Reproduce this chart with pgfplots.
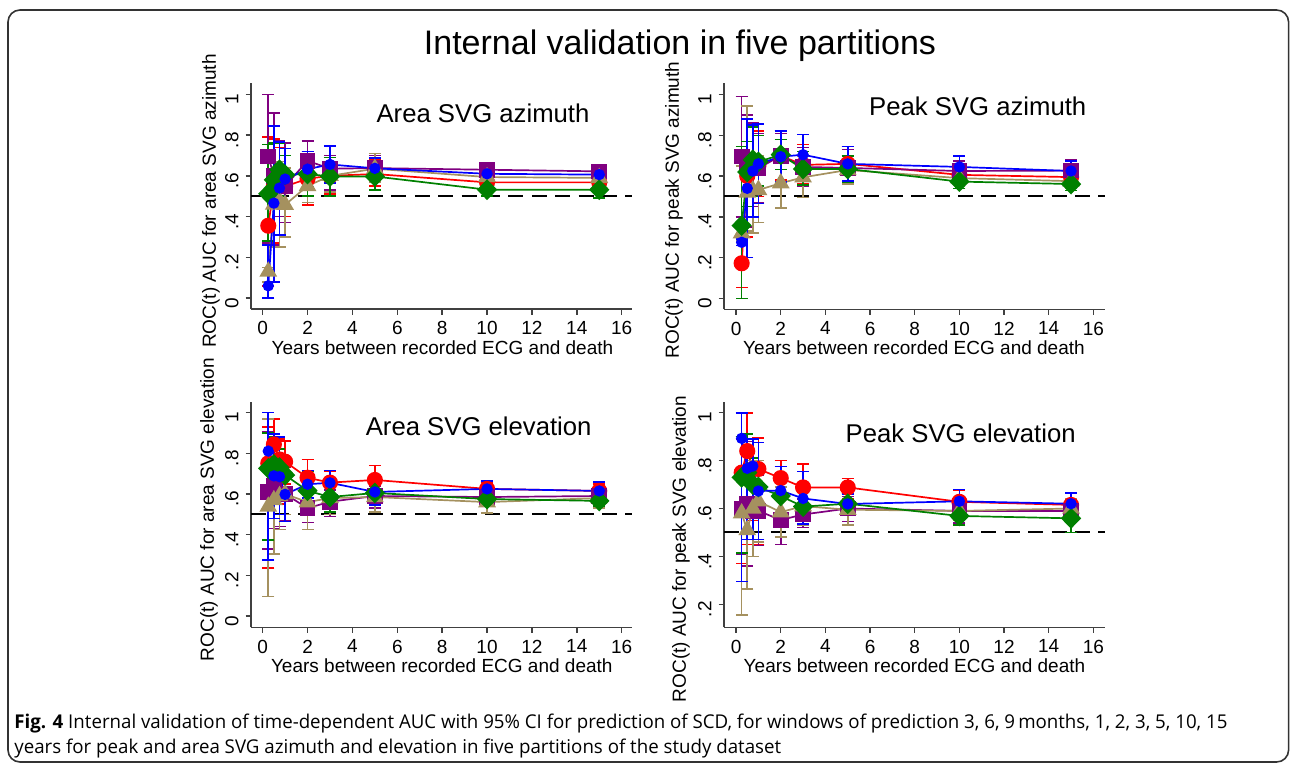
\documentclass[border=0pt]{standalone}
\usepackage{fontspec}
\setmainfont{Liberation Sans}
\newfontfamily\capfont{Open Sans}
\usepackage{graphicx}
\usepackage{pgfplots}
\usepackage{pgfplotstable}
\pgfplotsset{compat=1.18}

\definecolor{sred}{RGB}{255,0,0}
\definecolor{spurple}{RGB}{128,0,128}
\definecolor{stan}{RGB}{165,145,95}
\definecolor{sgreen}{RGB}{0,128,0}
\definecolor{sblue}{RGB}{0,0,255}

% Area SVG azimuth
\pgfplotstableread{
x r rl rh p pl ph t tl th g gl gh b bl bh
0.25 0.355 0.06 0.79 0.695 0.27 1.00 0.13 0.08 0.15 0.512 0.28 0.753 0.06 0.00 0.26
0.5 0.55 0.27 0.78 0.60 0.26 0.91 0.46 0.25 0.67 0.58 0.44 0.76 0.466 0.08 0.846
0.75 0.57 0.40 0.74 0.57 0.40 0.77 0.475 0.25 0.67 0.63 0.50 0.76 0.54 0.31 0.766
1 0.548 0.40 0.70 0.55 0.37 0.76 0.458 0.30 0.64 0.605 0.45 0.70 0.584 0.434 0.735
2 0.586 0.458 0.72 0.674 0.47 0.772 0.55 0.47 0.63 0.609 0.50 0.72 0.633 0.548 0.72
3 0.60 0.51 0.69 0.635 0.53 0.70 0.60 0.52 0.69 0.597 0.50 0.69 0.656 0.565 0.748
5 0.609 0.55 0.68 0.638 0.57 0.70 0.635 0.57 0.709 0.597 0.53 0.66 0.637 0.58 0.687
10 0.568 0.53 0.61 0.63 0.59 0.665 0.594 0.54 0.66 0.532 0.50 0.58 0.61 0.58 0.655
15 0.568 0.53 0.60 0.622 0.59 0.65 0.59 0.55 0.63 0.532 0.49 0.57 0.606 0.58 0.63
}\tabA
% Peak SVG azimuth
\pgfplotstableread{
x r rl rh p pl ph t tl th g gl gh b bl bh
0.25 0.172 0.054 0.40 0.696 0.40 0.99 0.32 0.28 0.65 0.357 0.00 0.745 0.275 0.26 0.29
0.5 0.60 0.30 0.88 0.66 0.35 0.90 0.52 0.33 0.944 0.62 0.45 0.77 0.54 0.20 0.88
0.75 0.65 0.45 0.85 0.65 0.45 0.86 0.53 0.32 0.85 0.68 0.50 0.84 0.625 0.40 0.85
1 0.65 0.50 0.82 0.638 0.47 0.81 0.532 0.373 0.70 0.67 0.55 0.80 0.66 0.465 0.855
2 0.70 0.58 0.82 0.70 0.57 0.81 0.565 0.444 0.68 0.705 0.633 0.78 0.695 0.57 0.82
3 0.655 0.56 0.755 0.645 0.55 0.74 0.594 0.494 0.70 0.635 0.555 0.72 0.705 0.61 0.805
5 0.66 0.57 0.745 0.64 0.56 0.73 0.63 0.56 0.70 0.635 0.57 0.70 0.66 0.575 0.745
10 0.606 0.56 0.655 0.625 0.575 0.675 0.59 0.54 0.65 0.573 0.54 0.61 0.645 0.59 0.70
15 0.595 0.56 0.635 0.627 0.58 0.68 0.575 0.54 0.62 0.561 0.53 0.59 0.625 0.575 0.675
}\tabB
% Area SVG elevation
\pgfplotstableread{
x r rl rh p pl ph t tl th g gl gh b bl bh
0.25 0.751 0.235 0.93 0.611 0.33 0.905 0.538 0.095 0.97 0.726 0.375 0.90 0.811 0.275 1.00
0.5 0.844 0.43 0.97 0.64 0.43 0.86 0.57 0.305 0.83 0.745 0.48 0.88 0.689 0.48 0.895
0.75 0.77 0.55 0.87 0.60 0.44 0.80 0.59 0.425 0.80 0.73 0.60 0.82 0.685 0.50 0.88
1 0.759 0.65 0.86 0.60 0.47 0.73 0.60 0.50 0.70 0.693 0.58 0.77 0.598 0.465 0.73
2 0.68 0.60 0.77 0.53 0.46 0.62 0.56 0.425 0.68 0.616 0.52 0.71 0.648 0.58 0.715
3 0.656 0.60 0.71 0.562 0.49 0.62 0.58 0.50 0.66 0.585 0.51 0.66 0.655 0.59 0.715
5 0.669 0.60 0.74 0.59 0.53 0.64 0.585 0.51 0.65 0.605 0.55 0.66 0.61 0.545 0.67
10 0.625 0.59 0.66 0.585 0.54 0.63 0.56 0.505 0.62 0.575 0.54 0.62 0.625 0.59 0.665
15 0.615 0.58 0.65 0.59 0.55 0.63 0.58 0.53 0.63 0.566 0.54 0.60 0.615 0.575 0.66
}\tabC
% Peak SVG elevation
\pgfplotstableread{
x r rl rh p pl ph t tl th g gl gh b bl bh
0.25 0.75 0.37 0.90 0.60 0.41 0.89 0.58 0.155 0.90 0.73 0.415 0.90 0.893 0.295 1.00
0.5 0.84 0.45 1.00 0.62 0.36 0.88 0.51 0.265 0.76 0.75 0.57 0.91 0.768 0.47 0.89
0.75 0.765 0.55 0.89 0.59 0.40 0.80 0.60 0.40 0.80 0.70 0.60 0.81 0.777 0.47 0.89
1 0.765 0.45 0.895 0.59 0.445 0.74 0.63 0.46 0.80 0.69 0.60 0.78 0.673 0.47 0.875
2 0.727 0.66 0.80 0.552 0.45 0.66 0.585 0.48 0.69 0.652 0.58 0.72 0.675 0.58 0.775
3 0.688 0.60 0.785 0.575 0.52 0.64 0.61 0.53 0.69 0.608 0.55 0.67 0.642 0.535 0.755
5 0.688 0.64 0.725 0.60 0.545 0.65 0.595 0.53 0.66 0.62 0.58 0.66 0.619 0.58 0.66
10 0.628 0.58 0.675 0.59 0.54 0.64 0.59 0.55 0.64 0.569 0.53 0.61 0.63 0.575 0.68
15 0.615 0.57 0.665 0.59 0.55 0.63 0.60 0.56 0.64 0.559 0.50 0.62 0.62 0.57 0.665
}\tabD

\newcommand{\ser}[5]{%
\addplot[color=#3, line width=0.85pt, mark=#4,
  mark options={solid, fill=#3, draw=#3, #5},
  error bars/.cd, y dir=both, y explicit,
  error bar style={line width=0.8pt, color=#3, solid},
  error mark options={rotate=90, mark size=3pt, line width=0.8pt, color=#3}]
  table[x=x, y=#2, y error plus expr=\thisrow{#2h}-\thisrow{#2},
        y error minus expr=\thisrow{#2}-\thisrow{#2l}] {#1};}
\newcommand{\allser}[1]{%
\ser{#1}{r}{sred}{*}{mark size=3.6pt}
\ser{#1}{p}{spurple}{square*}{mark size=3.5pt}
\ser{#1}{t}{stan}{triangle*}{mark size=4.3pt}
\ser{#1}{g}{sgreen}{diamond*}{mark size=4.6pt, xscale=1.3}
\ser{#1}{b}{sblue}{*}{mark size=2.4pt}}

\pgfplotsset{
  panel/.style={
    scale only axis, width=190.5pt, height=113pt, clip=false,
    axis x line*=bottom, axis y line*=left,
    x axis line style={-}, y axis line style={-},
    axis line style={black!75, line width=0.75pt},
    tick align=outside, major tick length=2.75pt,
    tick style={black!75, line width=0.75pt},
    xtick={0,2,4,6,8,10,12,14,16}, xticklabels={0,2,4,6,8,10,12,14,16},
    yticklabel style={rotate=90, anchor=south, xshift=-2.5pt},
    tick label style={font=\fontsize{9.5}{11}\selectfont, black},
  },
  refl/.style={black, line width=1pt, dash pattern=on 7.5pt off 4.2pt, forget plot},
}
\newlength\capwA
\newcommand{\lbl}{\fontsize{9.5}{11}\selectfont}
\newcommand{\ttl}{\fontsize{12.85}{15}\selectfont}
\newcommand{\capA}{\textbf{Fig. 4} Internal validation of time-dependent AUC with 95\% CI for prediction of SCD, for windows of prediction 3, 6, 9\,months, 1, 2, 3, 5, 10, 15}
\newcommand{\capB}{years for peak and area SVG azimuth and elevation in five partitions of the study dataset}

\begin{document}
\settowidth{\capwA}{\capfont\fontsize{9.5}{11}\selectfont\capA}%
\pgfmathsetmacro\capscale{606.5/\capwA}%
\begin{tikzpicture}
\path (0pt,0pt) rectangle (645pt,384pt);
\draw[rounded corners=6pt, line width=0.8pt, black!80] (4pt,3pt) rectangle (644.3pt,379pt);

\node[anchor=base, inner sep=0] at (340pt,356.5pt) {\fontsize{17}{20}\selectfont Internal validation in five partitions};

% Panel 1
\begin{axis}[panel, at={(125.5pt,229.5pt)}, anchor=south west,
  xmin=-0.52, xmax=16.46, ymin=-0.054, ymax=1.056,
  ytick={0,0.2,0.4,0.6,0.8,1}, yticklabels={0,.2,.4,.6,.8,1}]
\addplot[refl] coordinates {(-0.52,0.5) (16.46,0.5)};
\allser{\tabA}
\end{axis}
% Panel 2
\begin{axis}[panel, at={(362pt,229.35pt)}, anchor=south west, height=113.15pt,
  xmin=-0.54, xmax=16.52, ymin=-0.054, ymax=1.057,
  ytick={0,0.2,0.4,0.6,0.8,1}, yticklabels={0,.2,.4,.6,.8,1}]
\addplot[refl] coordinates {(-0.54,0.5) (16.52,0.5)};
\allser{\tabB}
\end{axis}
% Panel 3
\begin{axis}[panel, at={(125.5pt,70.35pt)}, anchor=south west, height=112.8pt,
  xmin=-0.52, xmax=16.46, ymin=-0.056, ymax=1.054,
  ytick={0,0.2,0.4,0.6,0.8,1}, yticklabels={0,.2,.4,.6,.8,1}]
\addplot[refl] coordinates {(-0.52,0.5) (16.46,0.5)};
\allser{\tabC}
\end{axis}
% Panel 4
\begin{axis}[panel, at={(362pt,70.35pt)}, anchor=south west, height=112.8pt,
  xmin=-0.54, xmax=16.52, ymin=0.104, ymax=1.046,
  ytick={0.2,0.4,0.6,0.8,1}, yticklabels={.2,.4,.6,.8,1}]
\addplot[refl] coordinates {(-0.54,0.5) (16.52,0.5)};
\allser{\tabD}
\end{axis}

% panel titles
\node[anchor=base, inner sep=0] at (241.5pt,322.65pt) {\ttl Area SVG azimuth};
\node[anchor=base, inner sep=0] at (488.85pt,326.5pt) {\ttl Peak SVG azimuth};
\node[anchor=base, inner sep=0] at (239.35pt,166.5pt) {\ttl Area SVG elevation};
\node[anchor=base, inner sep=0] at (480.35pt,162.65pt) {\ttl Peak SVG elevation};

% x labels
\node[anchor=base, inner sep=0] at (221.25pt,207pt) {\lbl Years between recorded ECG and death};
\node[anchor=base, inner sep=0] at (457pt,207pt) {\lbl Years between recorded ECG and death};
\node[anchor=base, inner sep=0] at (220.9pt,47.65pt) {\lbl Years between recorded ECG and death};
\node[anchor=base, inner sep=0] at (457.25pt,47.65pt) {\lbl Years between recorded ECG and death};

% y labels
\node[rotate=90, anchor=center, inner sep=0] at (105.5pt,283.5pt) {\lbl ROC(t) AUC for area SVG azimuth};
\node[rotate=90, anchor=center, inner sep=0] at (337pt,279pt) {\lbl ROC(t) AUC for peak SVG azimuth};
\node[rotate=90, anchor=center, inner sep=0] at (104.5pt,129.25pt) {\lbl ROC(t) AUC for area SVG elevation};
\node[rotate=90, anchor=center, inner sep=0] at (340.5pt,109.5pt) {\lbl ROC(t) AUC for peak SVG elevation};

% caption
\node[anchor=base west, inner sep=0] at (7pt,20pt) {\scalebox{\capscale}[1]{\capfont\fontsize{9.5}{11}\selectfont\capA}};
\node[anchor=base west, inner sep=0] at (7pt,7.5pt) {\scalebox{\capscale}[1]{\capfont\fontsize{9.5}{11}\selectfont\capB}};
\end{tikzpicture}
\end{document}
